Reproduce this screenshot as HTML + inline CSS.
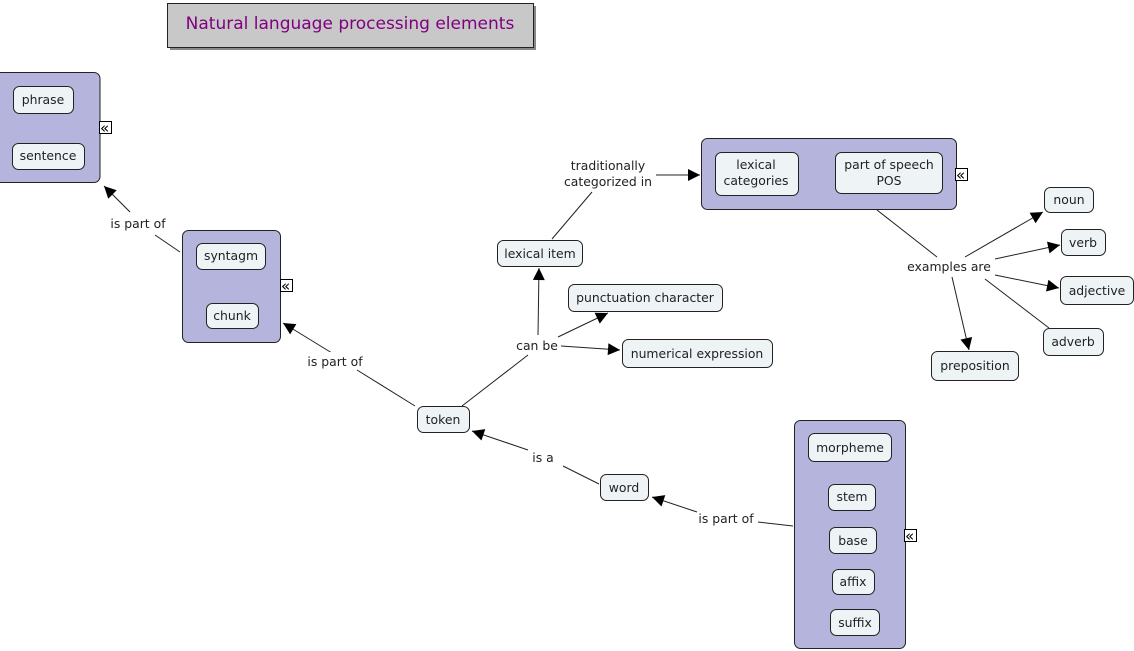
<!DOCTYPE html>
<html><head><meta charset="utf-8"><style>
html,body{margin:0;padding:0;background:#fff;width:1134px;height:651px;overflow:hidden}
svg text{font-family:"DejaVu Sans","Liberation Sans",sans-serif;font-size:12.4px;fill:#222}
.g{fill:#b4b4dc;stroke:#222;stroke-width:1}
.n{fill:#eef3f5;stroke:#222;stroke-width:1}
.l{stroke:#222;stroke-width:1;fill:none}
</style></head><body>
<svg width="1134" height="651" xmlns="http://www.w3.org/2000/svg">
<defs><marker id="a" viewBox="0 0 10 10" refX="10" refY="5" markerWidth="15" markerHeight="12" markerUnits="userSpaceOnUse" orient="auto"><path d="M0,0L10,5L0,10z" fill="#000"/></marker></defs>
<rect x="170" y="6" width="366" height="44" fill="#888"/>
<rect x="167.5" y="3.5" width="366" height="44" fill="#c8c8c8" stroke="#222"/>
<text x="350" y="29" text-anchor="middle" style="font-size:17px;fill:#800080">Natural language processing elements</text>

<g class="l">
<line x1="180" y1="252" x2="155" y2="235"/><line x1="130" y1="212" x2="104" y2="186" marker-end="url(#a)"/>
<line x1="415" y1="406" x2="357" y2="370"/><line x1="345" y1="361" x2="283" y2="323" marker-end="url(#a)"/>
<line x1="462" y1="406" x2="528" y2="355"/><line x1="538" y1="335" x2="539" y2="268" marker-end="url(#a)"/>
<line x1="558" y1="337" x2="608" y2="313" marker-end="url(#a)"/><line x1="561" y1="346" x2="620" y2="350" marker-end="url(#a)"/>
<line x1="552" y1="239" x2="592" y2="192"/><line x1="656" y1="175" x2="700" y2="175" marker-end="url(#a)"/>
<line x1="599" y1="484" x2="563" y2="466"/><line x1="528" y1="450" x2="472" y2="431" marker-end="url(#a)"/>
<line x1="793" y1="526" x2="758" y2="522"/><line x1="697" y1="512" x2="652" y2="497" marker-end="url(#a)"/>
<line x1="877" y1="210" x2="937" y2="257"/>
<line x1="965" y1="257" x2="1043" y2="212" marker-end="url(#a)"/>
<line x1="995" y1="259" x2="1060" y2="245" marker-end="url(#a)"/>
<line x1="995" y1="275" x2="1059" y2="288" marker-end="url(#a)"/>
<line x1="985" y1="279" x2="1049" y2="328"/>
<line x1="952" y1="277" x2="969" y2="350" marker-end="url(#a)"/>
</g>
<rect x="300" y="352" width="70" height="16" fill="#fff"/>

<rect class="g" x="-5" y="72.5" width="105" height="110" rx="6"/>
<rect class="n" x="13.5" y="86.5" width="60" height="27" rx="6"/><text x="43" y="104" text-anchor="middle">phrase</text>
<rect class="n" x="12.5" y="143.5" width="72" height="26" rx="6"/><text x="48" y="160" text-anchor="middle">sentence</text>

<rect class="g" x="182.5" y="230.5" width="98" height="112" rx="6"/>
<rect class="n" x="196.5" y="243.5" width="69" height="26" rx="6"/><text x="231" y="260" text-anchor="middle">syntagm</text>
<rect class="n" x="206.5" y="303.5" width="52" height="25" rx="6"/><text x="232" y="320" text-anchor="middle">chunk</text>

<rect class="g" x="701.5" y="138.5" width="255" height="71" rx="6"/>
<rect class="n" x="715.5" y="152.5" width="83" height="43" rx="6"/><text x="756" y="169" text-anchor="middle">lexical</text><text x="756" y="185" text-anchor="middle">categories</text>
<rect class="n" x="835.5" y="152.5" width="107" height="41" rx="6"/><text x="889" y="169" text-anchor="middle">part of speech</text><text x="889" y="185" text-anchor="middle">POS</text>

<rect class="g" x="794.5" y="420.5" width="111" height="228" rx="6"/>
<rect class="n" x="808.5" y="433.5" width="83" height="28" rx="6"/><text x="850" y="452" text-anchor="middle">morpheme</text>
<rect class="n" x="828.5" y="484.5" width="47" height="26" rx="6"/><text x="852" y="501" text-anchor="middle">stem</text>
<rect class="n" x="829.5" y="527.5" width="47" height="26" rx="6"/><text x="853" y="545" text-anchor="middle">base</text>
<rect class="n" x="832.5" y="569.5" width="42" height="25" rx="6"/><text x="853" y="586" text-anchor="middle">affix</text>
<rect class="n" x="830.5" y="609.5" width="49" height="26" rx="6"/><text x="855" y="627" text-anchor="middle">suffix</text>

<g>
<rect class="n" x="497.5" y="240.5" width="85" height="26" rx="6"/><text x="540" y="258" text-anchor="middle">lexical item</text>
<rect class="n" x="568.5" y="284.5" width="154" height="27" rx="6"/><text x="645" y="302" text-anchor="middle">punctuation character</text>
<rect class="n" x="622.5" y="339.5" width="150" height="28" rx="6"/><text x="697" y="358" text-anchor="middle">numerical expression</text>
<rect class="n" x="417.5" y="406.5" width="52" height="26" rx="6"/><text x="443" y="424" text-anchor="middle">token</text>
<rect class="n" x="600.5" y="474.5" width="48" height="26" rx="6"/><text x="624" y="492" text-anchor="middle">word</text>
<rect class="n" x="1044.5" y="187.5" width="49" height="25" rx="6"/><text x="1069" y="204" text-anchor="middle">noun</text>
<rect class="n" x="1061.5" y="229.5" width="44" height="26" rx="6"/><text x="1083" y="247" text-anchor="middle">verb</text>
<rect class="n" x="1060.5" y="276.5" width="73" height="28" rx="6"/><text x="1097" y="295" text-anchor="middle">adjective</text>
<rect class="n" x="1043.5" y="328.5" width="60" height="27" rx="6"/><text x="1073" y="346" text-anchor="middle">adverb</text>
<rect class="n" x="931.5" y="351.5" width="87" height="29" rx="6"/><text x="975" y="370" text-anchor="middle">preposition</text>
</g>

<g>
<text x="138" y="228" text-anchor="middle">is part of</text>
<text x="335" y="366" text-anchor="middle">is part of</text>
<text x="537" y="350" text-anchor="middle">can be</text>
<text x="608" y="170" text-anchor="middle">traditionally</text>
<text x="608" y="186" text-anchor="middle">categorized in</text>
<text x="543" y="462" text-anchor="middle">is a</text>
<text x="726" y="523" text-anchor="middle">is part of</text>
<text x="949" y="271" text-anchor="middle">examples are</text>
</g>

<g>
<rect x="99.5" y="121.5" width="12" height="12" fill="#fff" stroke="#000"/><text x="100" y="133" style="font-size:15px;fill:#000">«</text>
<rect x="280.5" y="279.5" width="12" height="12" fill="#fff" stroke="#000"/><text x="281" y="291" style="font-size:15px;fill:#000">«</text>
<rect x="955.5" y="168.5" width="12" height="12" fill="#fff" stroke="#000"/><text x="956" y="180" style="font-size:15px;fill:#000">«</text>
<rect x="904.5" y="529.5" width="12" height="12" fill="#fff" stroke="#000"/><text x="905" y="541" style="font-size:15px;fill:#000">«</text>
</g>
</svg>
</body></html>
